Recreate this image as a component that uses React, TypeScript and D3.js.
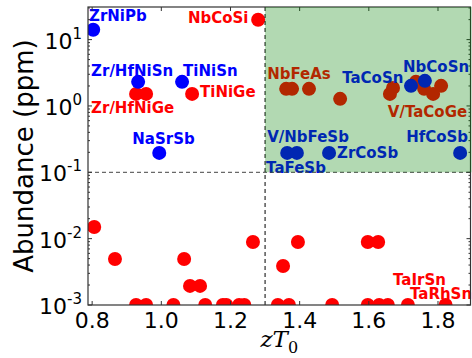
import * as d3 from "d3";
import React from "react";

// blue markers
const blueX = [0.803, 0.933, 1.06, 0.994, 1.364, 1.392, 1.485, 1.864, 1.722, 1.762];
const blueY = [14.1, 2.31, 2.31, 0.196, 0.196, 0.196, 0.196, 0.196, 2.01, 2.39];

// red markers (abundant and scarce)
const redX = [
  1.28, 0.927, 0.956, 1.089, 1.361, 1.378, 1.427, 1.517, 1.661, 1.67, 1.736, 1.76, 1.786, 1.809,
  0.806, 0.866, 0.927, 0.956, 1.035, 1.066, 1.083, 1.112, 1.127, 1.178, 1.188, 1.225, 1.24,
  1.265, 1.337, 1.369, 1.352, 1.395, 1.494, 1.597, 1.627, 1.597, 1.63, 1.655, 1.713, 1.822,
];
const redY = [
  19.9, 1.52, 1.52, 1.52, 1.81, 1.81, 1.81, 1.28, 1.52, 1.87, 2.31, 1.81, 1.52, 2.01,
  0.015, 0.00494, 0.001, 0.001, 0.001, 0.00494, 0.00194, 0.00194, 0.001, 0.001, 0.001, 0.001, 0.001,
  0.00891, 0.001, 0.001, 0.00387, 0.00891, 0.001, 0.00891, 0.00891, 0.001, 0.001, 0.001, 0.001, 0.001,
];

// annotations (left/baseline anchor in data coords)
const blueLabels = ["ZrNiPb", "Zr/HfNiSn", "TiNiSn", "NaSrSb", "V/NbFeSb", "TaFeSb", "ZrCoSb", "HfCoSb", "TaCoSn", "NbCoSn"];
const blueLabelX = [0.791, 0.797, 1.063, 0.916, 1.306, 1.303, 1.508, 1.708, 1.523, 1.699];
const blueLabelY = [19.2, 2.84, 2.84, 0.268, 0.288, 0.098, 0.165, 0.288, 2.23, 3.27];

const redLabels = ["NbCoSi", "Zr/HfNiGe", "TiNiGe", "NbFeAs", "V/TaCoGe", "TaIrSn", "TaRhSn"];
const redLabelX = [1.077, 0.797, 1.112, 1.306, 1.655, 1.67, 1.719];
const redLabelY = [17.9, 0.787, 1.37, 2.56, 0.685, 0.002, 0.00123];

const xTicks = [0.8, 1.0, 1.2, 1.4, 1.6, 1.8];
const yTicks = [1e-3, 1e-2, 1e-1, 1, 10];
const yTickExp = ["-3", "-2", "-1", "0", "1"];

const W = 472;
const H = 358;
const left = 88;
const right = 470.5;
const top = 7;
const bottom = 305;

export default function App() {
  const x = d3.scaleLinear().domain([0.788, 1.894]).range([left, right]);
  const y = d3.scaleLog().domain([1e-3, 31]).range([bottom, top]);

  const minor: number[] = [];
  for (let e = -3; e <= 1; e++) {
    for (let m = 2; m <= 9; m++) {
      const v = m * Math.pow(10, e);
      if (v < 31) minor.push(v);
    }
  }

  const font = "DejaVu Sans";
  const red = "#ff0000";
  const blue = "#0000ff";

  return (
    <svg width={W} height={H} style={{ position: "absolute", left: 0, top: 0 }} fontFamily={font}>
      <defs>
        <clipPath id="plot">
          <rect x={left} y={top} width={right - left} height={bottom - top} />
        </clipPath>
      </defs>
      <rect width={W} height={H} fill="white" />

      <g clipPath="url(#plot)">
        {redX.map((d, i) => (
          <circle key={"r" + i} cx={x(d)} cy={y(redY[i])} r={7} fill={red} />
        ))}
        {blueX.map((d, i) => (
          <circle key={"b" + i} cx={x(d)} cy={y(blueY[i])} r={7} fill={blue} />
        ))}
      </g>

      {blueLabels.map((t, i) => (
        <text key={t} x={x(blueLabelX[i])} y={y(blueLabelY[i])} fill={blue} fontWeight="bold" fontSize={15}>
          {t}
        </text>
      ))}
      {redLabels.map((t, i) => (
        <text key={t} x={x(redLabelX[i])} y={y(redLabelY[i])} fill={red} fontWeight="bold" fontSize={15}>
          {t}
        </text>
      ))}

      {/* threshold lines */}
      <line x1={left} x2={right} y1={y(0.1)} y2={y(0.1)} stroke="#444" strokeWidth={1} strokeDasharray="4,3" />
      <line x1={x(1.3)} x2={x(1.3)} y1={top} y2={bottom} stroke="#000" strokeWidth={1} strokeDasharray="4,3" />

      {/* ticks */}
      <g stroke="#333" strokeWidth={1}>
        {xTicks.map((t) => (
          <g key={t}>
            <line x1={x(t)} x2={x(t)} y1={bottom} y2={bottom - 4} />
            <line x1={x(t)} x2={x(t)} y1={top} y2={top + 4} />
          </g>
        ))}
        {yTicks.map((t) => (
          <g key={t}>
            <line x1={left} x2={left + 4} y1={y(t)} y2={y(t)} />
            <line x1={right} x2={right - 4} y1={y(t)} y2={y(t)} />
          </g>
        ))}
        {minor.map((t) => (
          <g key={t}>
            <line x1={left} x2={left + 2} y1={y(t)} y2={y(t)} />
            <line x1={right} x2={right - 2} y1={y(t)} y2={y(t)} />
          </g>
        ))}
      </g>
      <rect x={left} y={top} width={right - left} height={bottom - top} fill="none" stroke="#333" strokeWidth={1.2} />

      {/* stable region */}
      <rect x={x(1.3)} y={top} width={right + 1 - x(1.3)} height={y(0.1) - top} fill="green" fillOpacity={0.3} />

      {/* tick labels */}
      {xTicks.map((t) => (
        <text key={t} x={x(t)} y={328} textAnchor="middle" fontSize={22}>
          {t.toFixed(1)}
        </text>
      ))}
      {yTicks.map((t, i) => (
        <text key={t} x={82} y={y(t) + 9} textAnchor="end" fontSize={22}>
          10
          <tspan dy={-10} fontSize={15}>
            {yTickExp[i]}
          </tspan>
        </text>
      ))}

      <text transform={`translate(33,${(top + bottom) / 2}) rotate(-90)`} textAnchor="middle" fontSize={26}>
        Abundance (ppm)
      </text>
      <text x={(left + right) / 2} y={347} textAnchor="middle" fontSize={23} fontFamily="DejaVu Serif" fontStyle="italic">
        zT
        <tspan dy={6} fontSize={16} fontStyle="normal">
          0
        </tspan>
      </text>
    </svg>
  );
}
